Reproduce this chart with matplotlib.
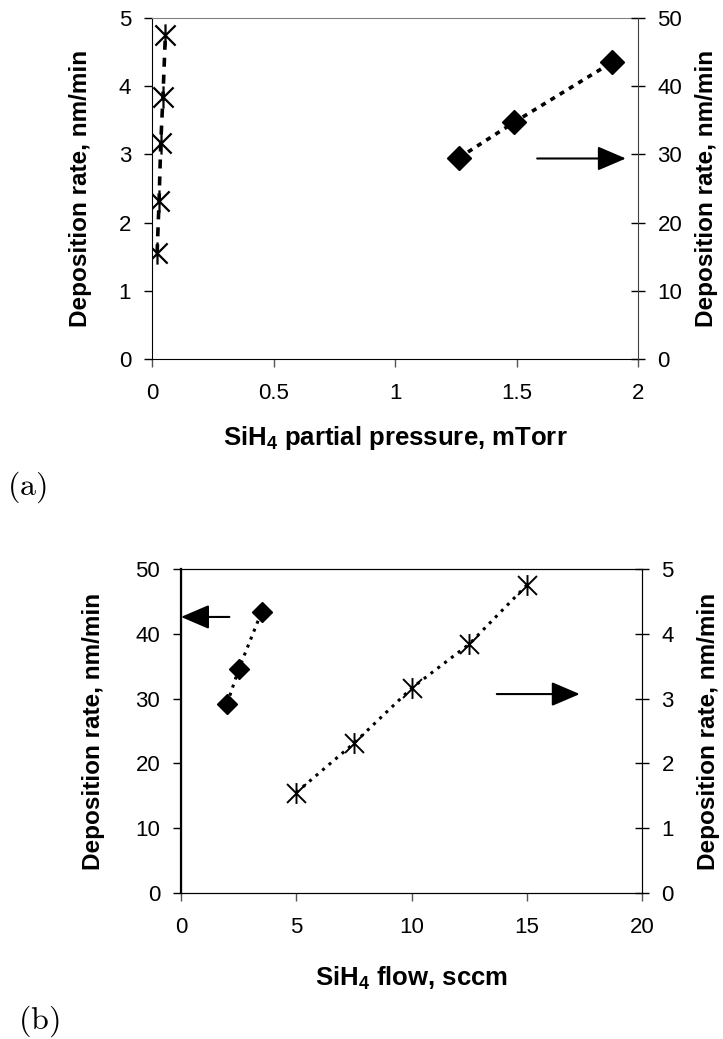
import numpy as np
import matplotlib
matplotlib.use("Agg")
import matplotlib.pyplot as plt
from matplotlib.path import Path

plt.rcParams['font.family'] = ['Liberation Sans', 'DejaVu Sans']
plt.rcParams['mathtext.fontset'] = 'custom'
plt.rcParams['mathtext.rm'] = 'Liberation Sans'
plt.rcParams['mathtext.bf'] = 'Liberation Sans:bold'

# data
pressure_star = [0.021, 0.029, 0.036, 0.045, 0.055]   # mTorr
rate_star = [1.55, 2.31, 3.16, 3.84, 4.75]           # nm/min
pressure_diam = [1.263, 1.49, 1.893]                  # mTorr
rate_diam = [29.5, 34.7, 43.5]                        # nm/min
flow_star = [5, 7.5, 10, 12.5, 15]                    # sccm
flow_diam = [2, 2.5, 3.5]                             # sccm
rate_diam_b = [29.2, 34.5, 43.4]

ylab = "Deposition rate, nm/min"

# asterisk-like marker: an X with a vertical bar
star = Path([(-1, -1), (1, 1), (-1, 1), (1, -1), (0, -1.1), (0, 1.1)],
            [Path.MOVETO, Path.LINETO] * 3)

W, H = 723, 1039
fig = plt.figure(figsize=(W / 100, H / 100), dpi=100)

def px(l, t, r, b):
    return [l / W, 1 - b / H, (r - l) / W, (b - t) / H]

def style(ax, side):
    ax.tick_params(axis='x', direction='out', length=6, width=1, color='#555555',
                   labelsize=16, pad=11)
    if side == 'left':
        ax.tick_params(axis='y', direction='out', length=6, width=1,
                       labelsize=16, pad=9)
    else:
        ax.tick_params(axis='y', direction='inout', length=10, width=1,
                       labelsize=16, pad=9)

# ---------- (a)
ax1 = fig.add_axes(px(152, 18, 638, 359))
ax1.plot(pressure_star, rate_star, color='k', lw=2.6, ls=(0, (2.5, 2.2)),
         marker=star, ms=16, mew=1.6, mfc='none', mec='k')
ax1.set_xlim(0, 2)
ax1.set_ylim(0, 5)
ax1.set_xticks([0, 0.5, 1, 1.5, 2])
ax1.set_xticklabels(['0', '0.5', '1', '1.5', '2'])
ax1.set_yticks(range(6))
style(ax1, 'left')
ax1.spines['top'].set_color('#808080')
ax1.spines['right'].set_visible(False)
ax1.set_xlabel(r'SiH$_\mathbf{4}$ partial pressure, mTorr', fontsize=18.5,
               fontweight='bold', va='center')
ax1.xaxis.set_label_coords(0.5, -0.232)
ax1.set_ylabel(ylab, fontsize=17.5, fontweight='bold', va='center')
ax1.yaxis.set_label_coords(-0.148, 0.5)

ax1r = ax1.twinx()
ax1r.plot(pressure_diam, rate_diam, color='k', lw=2.6, ls=(0, (1.4, 1.6)),
          marker='D', ms=12, mfc='k', mec='k')
ax1r.set_ylim(0, 50)
ax1r.set_yticks(range(0, 51, 10))
style(ax1r, 'right')
for s in ['left', 'top', 'bottom']:
    ax1r.spines[s].set_visible(False)
ax1r.spines['right'].set_color('#404040')
ax1r.set_ylabel(ylab, fontsize=17.5, fontweight='bold', va='center')
ax1r.yaxis.set_label_coords(1.14, 0.5)
ax1r.annotate('', xy=(1.95, 29.4), xytext=(1.585, 29.4),
              arrowprops=dict(arrowstyle='-|>,head_length=0.7,head_width=0.3',
                              color='k', lw=1.5, mutation_scale=25,
                              shrinkA=0, shrinkB=0))

# ---------- (b)
ax2 = fig.add_axes(px(181, 569, 642, 893))
ax2.plot(flow_diam, rate_diam_b, color='k', lw=2.2, ls=(0, (1, 1.8)),
         marker='D', ms=10.5, mfc='k', mec='k')
ax2.set_xlim(0, 20)
ax2.set_ylim(0, 50)
ax2.set_xticks(range(0, 21, 5))
ax2.set_yticks(range(0, 51, 10))
style(ax2, 'left')
ax2.spines['left'].set_linewidth(1.6)
ax2.set_xlabel(r'SiH$_\mathbf{4}$ flow, sccm', fontsize=18.5,
               fontweight='bold', va='center')
ax2.xaxis.set_label_coords(0.5, -0.262)
ax2.set_ylabel(ylab, fontsize=17.5, fontweight='bold', va='center')
ax2.yaxis.set_label_coords(-0.189, 0.5)
ax2.annotate('', xy=(0.0, 42.6), xytext=(2.1, 42.6),
             arrowprops=dict(arrowstyle='-|>,head_length=0.7,head_width=0.3',
                             color='k', lw=1.5, mutation_scale=25,
                             shrinkA=0, shrinkB=0))

ax2r = ax2.twinx()
ax2r.plot(flow_star, rate_star, color='k', lw=2.2, ls=(0, (1, 1.8)),
          marker=star, ms=15, mew=1.4, mfc='none', mec='k')
ax2r.set_ylim(0, 5)
ax2r.set_yticks(range(6))
style(ax2r, 'right')
ax2r.set_ylabel(ylab, fontsize=17.5, fontweight='bold', va='center')
ax2r.yaxis.set_label_coords(1.145, 0.5)
ax2r.annotate('', xy=(17.3, 3.07), xytext=(13.7, 3.07),
              arrowprops=dict(arrowstyle='-|>,head_length=0.7,head_width=0.3',
                              color='k', lw=1.5, mutation_scale=25,
                              shrinkA=0, shrinkB=0))

fig.text(27 / W, 1 - 487 / H, r'$\mathrm{(a)}$', math_fontfamily='cm',
         fontsize=23, ha='center', va='center')
fig.text(39 / W, 1 - 1021 / H, r'$\mathrm{(b)}$', math_fontfamily='cm',
         fontsize=23, ha='center', va='center')

fig.savefig('out.png', dpi=100)
